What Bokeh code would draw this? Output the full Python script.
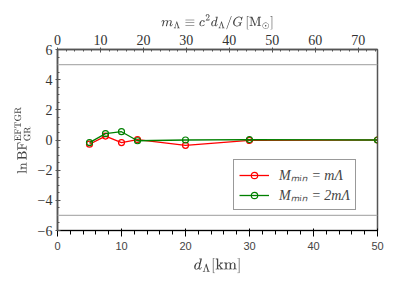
from bokeh.plotting import figure
from bokeh.models import Range1d, LinearAxis, SingleIntervalTicker, Span, CustomJSTickFormatter, Legend, LegendItem
from bokeh.embed import file_html
from bokeh.resources import INLINE

d_lambda = [5, 7.5, 10, 12.5, 20, 30, 50]
lnbf_mmin_1 = [-0.28, 0.26, -0.17, 0.03, -0.35, -0.03, 0.0]
lnbf_mmin_2 = [-0.17, 0.42, 0.55, -0.05, 0.0, 0.03, 0.0]
threshold = [5, -5]
m_top_range = [0, 74.5]

FONT = "Liberation Serif"
AX = "#555555"

p = figure(width=390, height=276, output_backend="svg", toolbar_location=None,
           x_range=Range1d(0, 50), y_range=Range1d(-6, 6),
           min_border_left=57, min_border_right=13, min_border_top=49, min_border_bottom=43)
p.grid.visible = False
p.outline_line_color = AX
p.outline_line_width = 1.5

p.extra_x_ranges = {"m": Range1d(m_top_range[0], m_top_range[1])}

minus = CustomJSTickFormatter(code="return String(tick).replace('-', '\u2212');")

for t in threshold:
    p.add_layout(Span(location=t, dimension="width", line_color="#b0b0b0", line_width=1.2))

r1 = p.line(d_lambda, lnbf_mmin_1, line_color="#ff0000", line_width=1.3)
c1 = p.scatter(d_lambda, lnbf_mmin_1, marker="circle", size=6, fill_color=None,
               line_color="#ff0000", line_width=1.2)
r2 = p.line(d_lambda, lnbf_mmin_2, line_color="#008000", line_width=1.3)
c2 = p.scatter(d_lambda, lnbf_mmin_2, marker="circle", size=6, fill_color=None,
               line_color="#008000", line_width=1.2)

p.xaxis.ticker = SingleIntervalTicker(interval=10, num_minor_ticks=5)
p.yaxis.ticker = SingleIntervalTicker(interval=2, num_minor_ticks=4)
p.yaxis.formatter = minus
p.xaxis.axis_label = r"$$d_\Lambda [\mathrm{km}]$$"
p.yaxis.axis_label = r"$$\ln \mathrm{BF}^{\rm EFTGR}_{\rm GR}$$"

top = LinearAxis(x_range_name="m", ticker=SingleIntervalTicker(interval=10, num_minor_ticks=5),
                 axis_label=r"$$m_\Lambda \equiv c^2 d_\Lambda / G \, [\mathrm{M}_\odot]$$")
p.add_layout(top, "above")

for ax in [p.xaxis[0], p.yaxis[0], top]:
    ax.axis_line_color = AX
    ax.axis_line_width = 1.5
    ax.major_tick_line_color = AX
    ax.minor_tick_line_color = AX
    ax.major_tick_in = 3
    ax.major_tick_out = 2
    ax.minor_tick_in = 2
    ax.minor_tick_out = 0
    ax.major_label_text_font = FONT
    ax.major_label_text_font_size = "14px"
    ax.major_label_text_color = "#333333"
    ax.axis_label_text_font = FONT
    ax.axis_label_text_font_size = "13px"
    ax.axis_label_text_font_style = "normal"
    ax.axis_label_standoff = 4
    ax.major_label_standoff = 3
top.axis_label_standoff = 1
p.xaxis[0].axis_label_standoff = 2

legend = Legend(items=[
    LegendItem(label="M\u2098\u1d62\u2099 = m\u039b", renderers=[r1, c1]),
    LegendItem(label="M\u2098\u1d62\u2099 = 2m\u039b", renderers=[r2, c2]),
], location=(176, 20))
legend.label_text_font = FONT
legend.label_text_font_style = "italic"
legend.label_text_font_size = "14px"
legend.label_height = 16
legend.glyph_height = 16
legend.border_line_color = "#333333"
legend.border_line_width = 1
legend.glyph_width = 30
legend.padding = 5
legend.spacing = 1
legend.label_standoff = 10
legend.margin = 0
p.add_layout(legend, "center")

open("out.html", "w").write(file_html(p, INLINE))
